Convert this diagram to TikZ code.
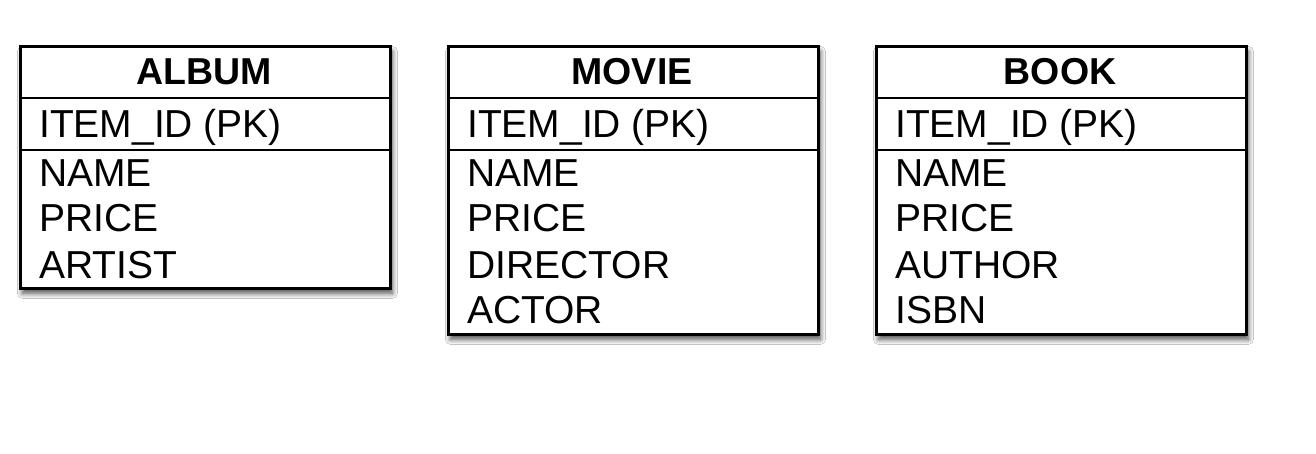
\documentclass[tikz,border=0pt]{standalone}
\usepackage{fontspec}
\setmainfont{Liberation Sans}
\usetikzlibrary{shadows.blur}
\tikzset{
  tableframe/.style={draw, line width=2.8pt, inner sep=0pt, anchor=north west,
    minimum width=370pt, fill=white,
    blur shadow={shadow xshift=2pt, shadow yshift=-5pt, shadow blur radius=5pt, shadow blur steps=10, shadow opacity=70}},
  rowsep/.style={line width=2.8pt},
  tabletitle/.style={font=\bfseries\fontsize{37.5}{40}\selectfont, anchor=base, inner sep=0pt},
  tablefield/.style={font=\fontsize{39}{41}\selectfont, anchor=base west, inner sep=0pt},
}
\begin{document}
\begin{tikzpicture}[x=1pt,y=-1pt]
\useasboundingbox[fill=white] (0,0) rectangle (1316,454);

% ALBUM
\node[tableframe, minimum height=242pt] (album) at (19,45) {};
\draw[rowsep] (album.west |- 0,98) -- (album.east |- 0,98);
\draw[rowsep] (album.west |- 0,150) -- (album.east |- 0,150);
\node[tabletitle] (albumT) at (204,85) {ALBUM};
\node[tablefield] (albumPK) at (39,138) {ITEM\_ID (PK)};
\node[tablefield] (albumF1) at (39,187) {NAME};
\node[tablefield] (albumF2) at (39,232) {PRICE};
\node[tablefield] (albumF3) at (39,278) {ARTIST};

% MOVIE
\node[tableframe, minimum height=288pt] (movie) at (447,45) {};
\draw[rowsep] (movie.west |- 0,98) -- (movie.east |- 0,98);
\draw[rowsep] (movie.west |- 0,150) -- (movie.east |- 0,150);
\node[tabletitle] (movieT) at (632,85) {MOVIE};
\node[tablefield] (moviePK) at (467,138) {ITEM\_ID (PK)};
\node[tablefield] (movieF1) at (467,187) {NAME};
\node[tablefield] (movieF2) at (467,232) {PRICE};
\node[tablefield] (movieF3) at (467,278) {DIRECTOR};
\node[tablefield] (movieF4) at (467,323) {ACTOR};

% BOOK
\node[tableframe, minimum height=288pt] (book) at (875,45) {};
\draw[rowsep] (book.west |- 0,98) -- (book.east |- 0,98);
\draw[rowsep] (book.west |- 0,150) -- (book.east |- 0,150);
\node[tabletitle] (bookT) at (1060,85) {BOOK};
\node[tablefield] (bookPK) at (895,138) {ITEM\_ID (PK)};
\node[tablefield] (bookF1) at (895,187) {NAME};
\node[tablefield] (bookF2) at (895,232) {PRICE};
\node[tablefield] (bookF3) at (895,278) {AUTHOR};
\node[tablefield] (bookF4) at (895,323) {ISBN};
\end{tikzpicture}
\end{document}
